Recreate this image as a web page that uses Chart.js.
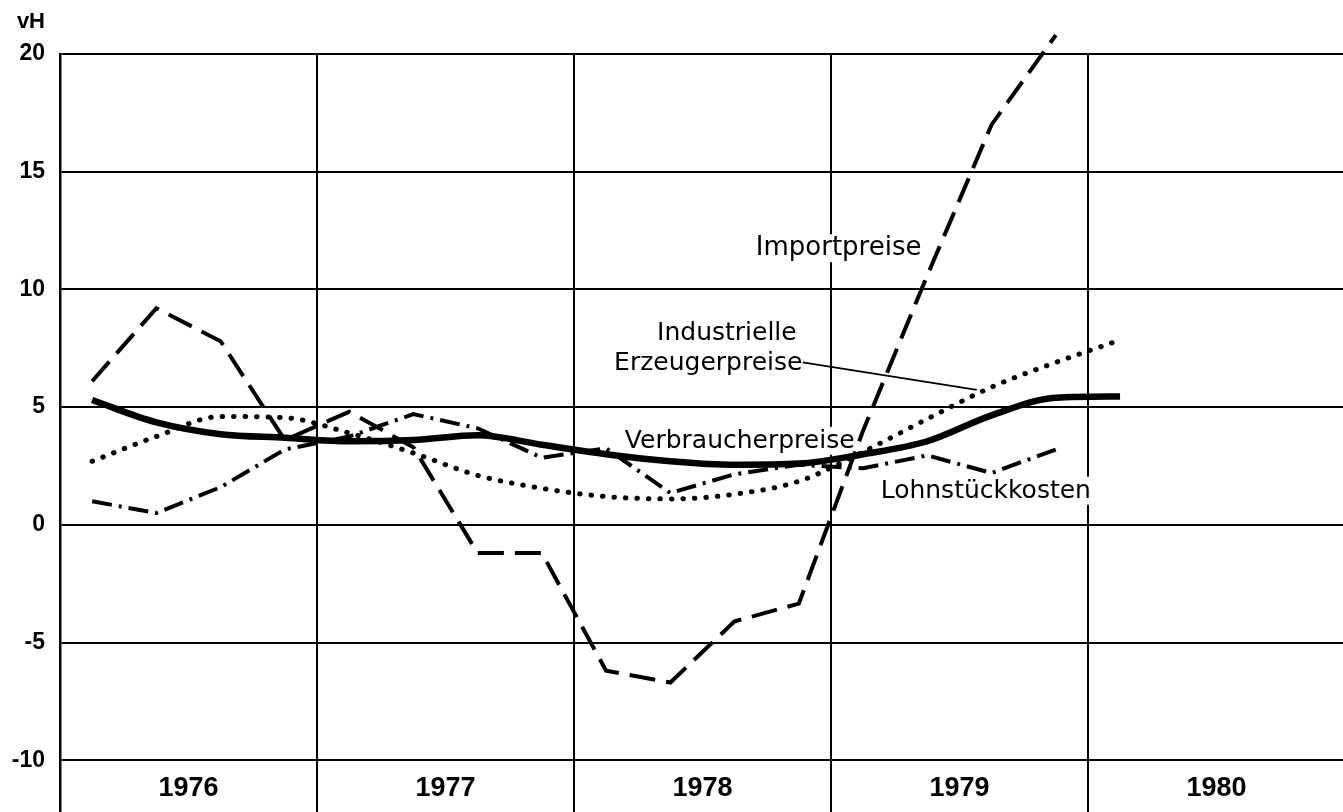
<!DOCTYPE html>
<html>
<head>
<meta charset="utf-8">
<script src="https://cdn.jsdelivr.net/npm/chart.js@4.4.1/dist/chart.umd.min.js"></script>
<style>
  html, body { margin: 0; padding: 0; background: #fff; overflow: hidden; }
  #wrap { position: relative; width: 1343px; height: 812px; }
</style>
</head>
<body>
<div id="wrap"><canvas id="c"></canvas></div>
<script>
// ---- data (quarterly, change vs. previous year in vH) ----
const quarters = [
  '1976 I','1976 II','1976 III','1976 IV',
  '1977 I','1977 II','1977 III','1977 IV',
  '1978 I','1978 II','1978 III','1978 IV',
  '1979 I','1979 II','1979 III','1979 IV',
  '1980 I'
];
const years = ['1976', '1977', '1978', '1979', '1980'];
const yTicks = [-10, -5, 0, 5, 10, 15, 20];

const importpreise      = [6.1, 9.2, 7.8, 3.6, 4.8, 3.3, -1.2, -1.2, -6.2, -6.7, -4.1, -3.35, 4.0, 10.6, 17.0, 20.8];
const lohnstueckkosten  = [1.0, 0.5, 1.6, 3.2, 3.75, 4.7, 4.1, 2.85, 3.25, 1.35, 2.15, 2.55, 2.4, 2.95, 2.2, 3.2];
const verbraucherpreise = [5.3, 4.35, 3.85, 3.7, 3.55, 3.6, 3.8, 3.4, 3.0, 2.7, 2.55, 2.6, 3.0, 3.55, 4.65, 5.4, 5.45];
const erzeugerpreise    = [2.7, 3.75, 4.6, 4.55, 3.9, 3.05, 2.1, 1.55, 1.2, 1.1, 1.3, 1.85, 3.1, 4.5, 5.85, 6.9, 7.85];

const seriesNames = ['Importpreise', 'Industrielle Erzeugerpreise', 'Verbraucherpreise', 'Lohnstückkosten'];

// ---- helpers ----
const QPY = 4; // quarters per year
const toPoints = arr => arr.map((v, i) => ({ x: i + 0.5, y: v, q: quarters[i] }));

// annotation text placement (in data units: x = quarter position, y = vH)
const annotations = [
  { text: 'Importpreise', x: 12.12, y: 11.45, box: true, size: 26 },
  { text: 'Industrielle', x: 10.38, y: 7.86, box: false, size: 25 },
  { text: 'Erzeugerpreise', x: 10.09, y: 6.58, box: false, size: 25 },
  { text: 'Verbraucherpreise', x: 10.58, y: 3.27, box: true, size: 25 },
  { text: 'Lohnstückkosten', x: 14.41, y: 1.15, box: true, size: 25 }
];
const leader = { x1: 11.56, y1: 6.90, x2: 14.27, y2: 5.73 };

const fontFor = a => a.size + 'px "DejaVu Sans"';

const annotationPlugin = {
  id: 'annot',
  beforeDatasetsDraw(chart) {
    const { ctx, scales: { x, y } } = chart;
    ctx.save();
    ctx.fillStyle = '#fff';
    annotations.forEach(a => {
      if (!a.box) return;
      ctx.font = fontFor(a);
      const w = ctx.measureText(a.text).width;
      const cx = x.getPixelForValue(a.x), by = y.getPixelForValue(a.y);
      ctx.fillRect(cx - w / 2 - 3, by - 21, w + 6, 28);
    });
    ctx.restore();
  },
  afterDatasetsDraw(chart) {
    const { ctx, scales: { x, y }, chartArea } = chart;
    ctx.save();
    ctx.fillStyle = '#000';
    ctx.textAlign = 'center';
    ctx.textBaseline = 'alphabetic';
    annotations.forEach(a => {
      ctx.font = fontFor(a);
      ctx.fillText(a.text, x.getPixelForValue(a.x), y.getPixelForValue(a.y));
    });
    // leader line from "Erzeugerpreise" to the dotted curve
    ctx.strokeStyle = '#000';
    ctx.lineWidth = 1.8;
    ctx.beginPath();
    ctx.moveTo(x.getPixelForValue(leader.x1), y.getPixelForValue(leader.y1));
    ctx.lineTo(x.getPixelForValue(leader.x2), y.getPixelForValue(leader.y2));
    ctx.stroke();
    // unit label
    ctx.font = 'bold 22px "Liberation Sans"';
    ctx.textAlign = 'right';
    ctx.fillText('vH', chartArea.left - 15, chartArea.top - 26);
    ctx.restore();
  }
};

const common = { pointRadius: 0, pointHoverRadius: 0, borderColor: '#000', fill: false, clip: false };
const noPad = s => { s.paddingLeft = 0; s.paddingRight = 0; s.paddingTop = 0; s.paddingBottom = 0; };

new Chart(document.getElementById('c'), {
  type: 'line',
  data: {
    datasets: [
      { ...common, label: seriesNames[0], data: toPoints(importpreise),
        borderWidth: 4, borderDash: [26, 11], tension: 0, borderCapStyle: 'butt' },
      { ...common, label: seriesNames[1], data: toPoints(erzeugerpreise),
        borderWidth: 5, borderDash: [0.5, 11], borderCapStyle: 'round', cubicInterpolationMode: 'monotone' },
      { ...common, label: seriesNames[2], data: toPoints(verbraucherpreise),
        borderWidth: 6.5, cubicInterpolationMode: 'monotone', borderCapStyle: 'butt' },
      { ...common, label: seriesNames[3], data: toPoints(lohnstueckkosten),
        borderWidth: 4, borderDash: [20, 7, 3, 7], tension: 0, borderCapStyle: 'butt' }
    ]
  },
  options: {
    responsive: true,
    maintainAspectRatio: false,
    animation: false,
    events: [],
    layout: { padding: { top: 54, right: 0, bottom: 0, left: 0 } },
    plugins: { legend: { display: false }, tooltip: { enabled: false }, title: { display: false } },
    scales: {
      x: {
        type: 'linear', min: 0, max: 19.97, position: 'bottom',
        afterBuildTicks: s => { s.ticks = years.map((_, i) => ({ value: i * QPY })); },
        afterFit: s => { s.height = 0; noPad(s); },
        ticks: { display: false },
        grid: { color: '#000', lineWidth: 2, drawTicks: false },
        border: { display: false }
      },
      xl: {
        type: 'linear', axis: 'x', min: 0, max: 19.97, position: { y: -10 },
        afterBuildTicks: s => { s.ticks = years.map((_, i) => ({ value: i * QPY + QPY / 2 })); },
        afterFit: s => { noPad(s); },
        ticks: {
          callback: (v, i) => years[i],
          font: { family: 'Liberation Sans', weight: 'bold', size: 27 },
          color: '#000', padding: 12, maxRotation: 0, autoSkip: false
        },
        grid: { display: false, drawTicks: false },
        border: { display: false }
      },
      y: {
        type: 'linear', min: -12.2, max: 20,
        afterBuildTicks: s => { s.ticks = yTicks.map(v => ({ value: v })); },
        afterFit: s => { s.width = 60; noPad(s); },
        ticks: {
          callback: v => String(v),
          font: { family: 'Liberation Sans', weight: 'bold', size: 23 },
          color: '#000', padding: 15
        },
        grid: { color: '#000', lineWidth: 2, drawTicks: false },
        border: { color: '#000', width: 2.5 }
      }
    }
  },
  plugins: [annotationPlugin]
});
</script>
</body>
</html>
